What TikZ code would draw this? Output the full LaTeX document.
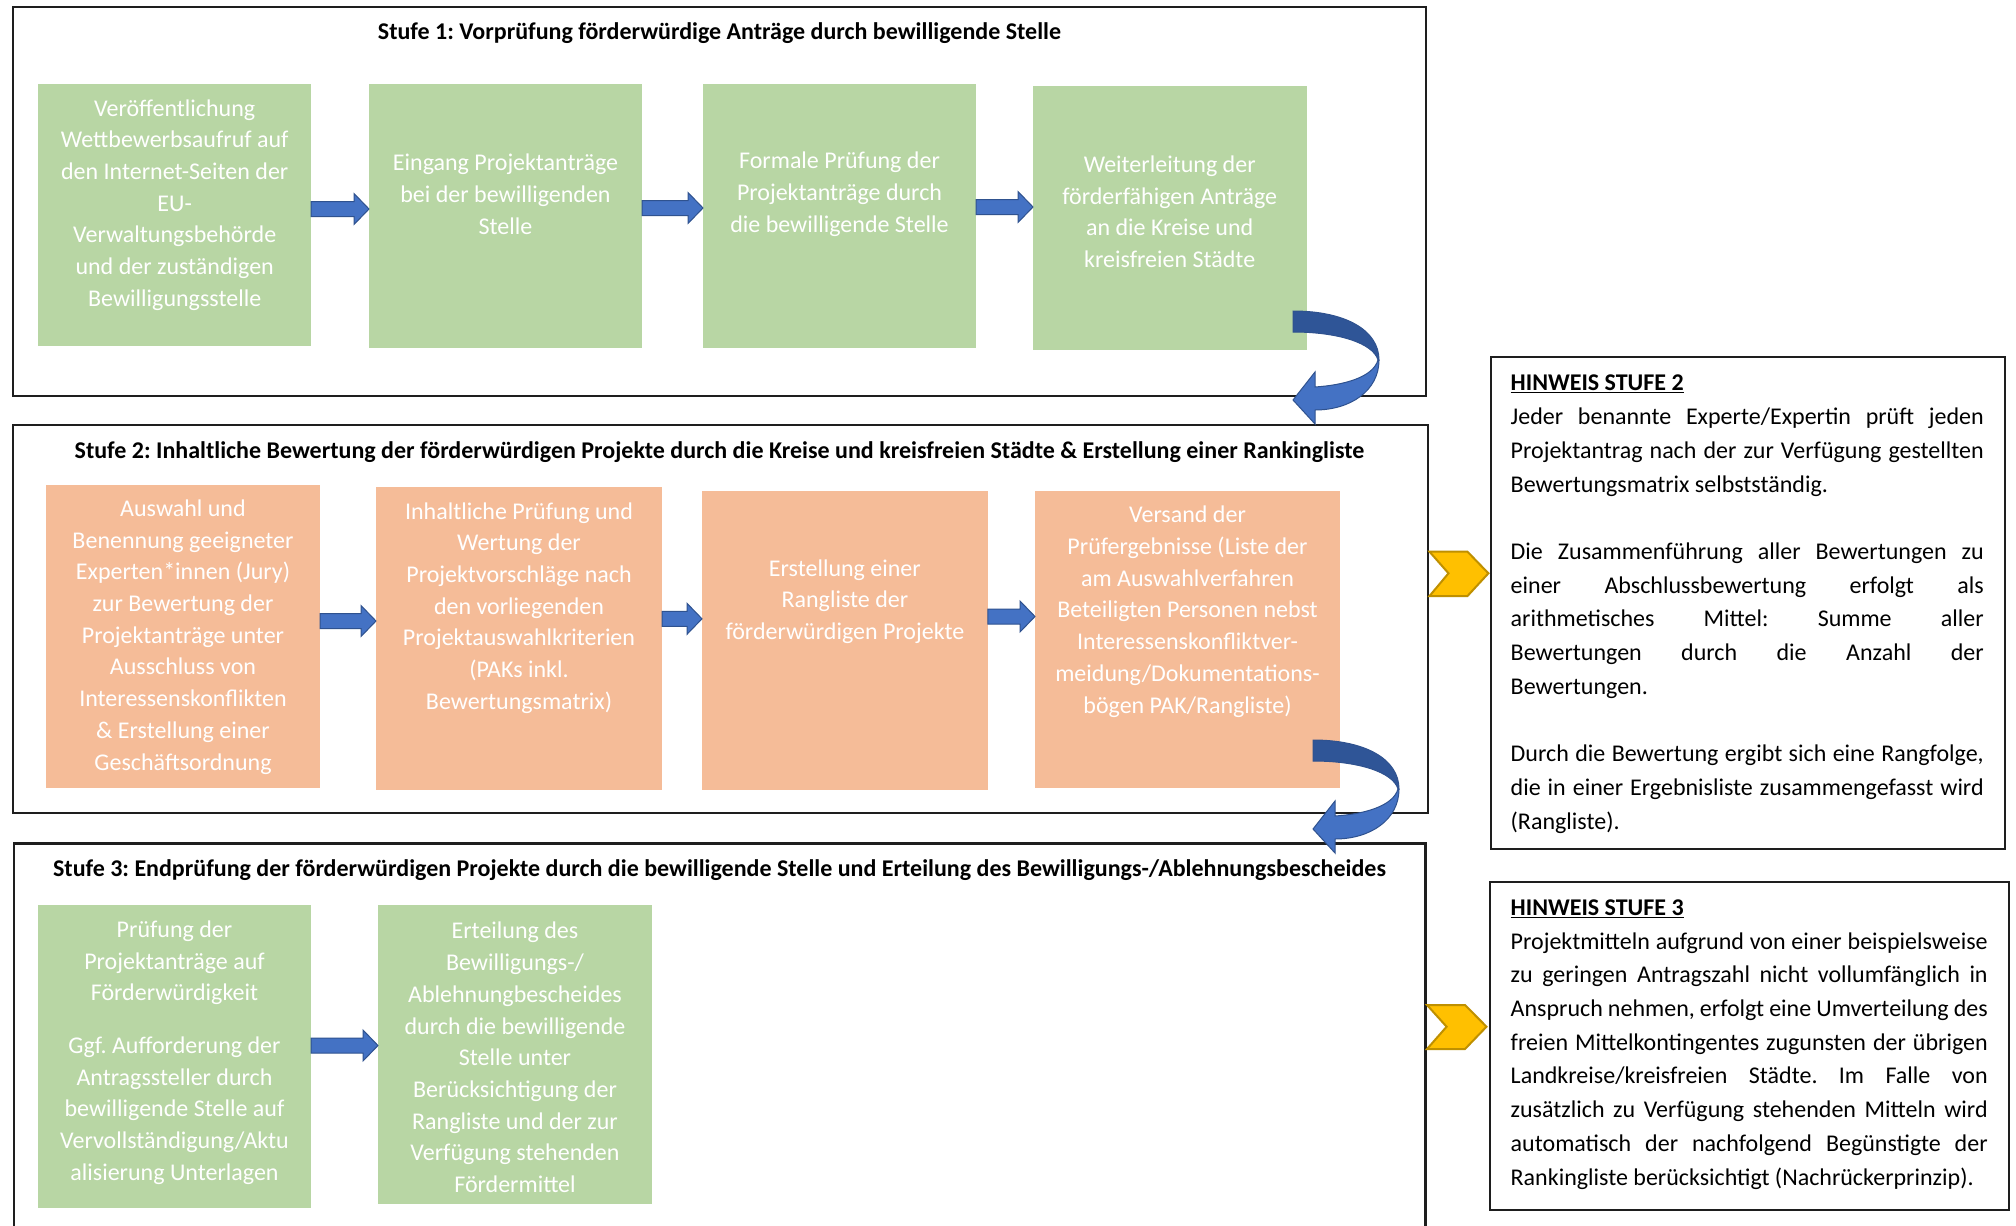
\documentclass[tikz,border=0pt]{standalone}
\usepackage{fontspec}
\setmainfont{Carlito}
\usetikzlibrary{calc}
\frenchspacing

\definecolor{boxgreen}{HTML}{B8D6A4}
\definecolor{boxorange}{HTML}{F5BC98}
\definecolor{arrowblue}{HTML}{4472C4}
\definecolor{arrowedge}{HTML}{2F528F}
\definecolor{arrowdark}{HTML}{2F5597}
\definecolor{chevfill}{HTML}{FFC000}
\definecolor{chevedge}{HTML}{BF9000}
\definecolor{framecol}{HTML}{1E1E1E}

% straight block arrow from #1 to the tip #2 (both at the same height)
\newcommand\blockarr[2]{%
  \draw[barrow] ($(#1)+(0pt,7.5pt)$) -- ($(#2)+(-15pt,7.5pt)$) -- ($(#2)+(-15pt,15.5pt)$)
    -- (#2) -- ($(#2)+(-15pt,-15.5pt)$) -- ($(#2)+(-15pt,-7.5pt)$) -- ($(#1)+(0pt,-7.5pt)$) -- cycle;}

% curved block arrow turning down and back to the left, starting at #1
\newcommand\curvedarr[1]{%
  \begin{scope}[shift={(#1)}]
    \filldraw[fill=arrowdark, draw=arrowedge, line width=1pt]
      (0,0) .. controls (52,0) and (86,19) .. (86,49) -- (85,49)
      .. controls (80,32) and (45,21) .. (0,21) -- cycle;
    \filldraw[fill=arrowblue, draw=arrowedge, line width=1pt, line join=miter]
      (86,49) .. controls (86,80) and (57,99) .. (22,99) -- (22,113) -- (0,89)
      -- (22,61) -- (22,76) .. controls (52,74) and (80,66) .. (85,49) -- cycle;
  \end{scope}}

\begin{document}
\begin{tikzpicture}[x=1pt,y=-1pt,
  stageframe/.style={draw=framecol, line width=2.5pt, inner sep=0pt, outer sep=0pt, anchor=north west},
  gbox/.style={fill=boxgreen, inner sep=0pt, outer sep=0pt, anchor=north west},
  obox/.style={fill=boxorange, inner sep=0pt, outer sep=0pt, anchor=north west},
  btext/.style={text=white, align=center, inner sep=0pt, font=\fontsize{24}{31.7}\selectfont},
  stagetitle/.style={inner sep=0pt, font=\fontsize{24}{29}\selectfont\bfseries},
  barrow/.style={fill=arrowblue, draw=arrowedge, line width=1pt, line join=miter},
  notebox/.style={draw=framecol, line width=2.5pt, inner sep=0pt, outer sep=0pt, anchor=north west},
  notetext/.style={align=left, inner sep=0pt, anchor=base west, font=\fontsize{24}{33.7}\selectfont},
  chev/.style={fill=chevfill, draw=chevedge, line width=2pt, line join=miter}
]
\useasboundingbox (0,0) rectangle (2016,1226);
\fill[white] (0,0) rectangle (2016,1226);
\clip (0,0) rectangle (2016,1226);

% ---------- stage frames ----------
\node[stageframe, minimum width=1413pt, minimum height=389pt] (st1) at (13,7) {};
\node[stageframe, minimum width=1415pt, minimum height=388pt] (st2) at (13,425) {};
\node[stageframe, minimum width=1411.5pt, minimum height=420pt] (st3) at (14,843.5) {};

\node[stagetitle] (t1) at (719.5,33.3) {Stufe 1: Vorprüfung förderwürdige Anträge durch bewilligende Stelle};
\node[stagetitle] (t2) at (719.5,452) {Stufe 2: Inhaltliche Bewertung der förderwürdigen Projekte durch die Kreise und kreisfreien Städte \& Erstellung einer Rankingliste};
\node[stagetitle] (t3) at (719.5,870) {Stufe 3: Endprüfung der förderwürdigen Projekte durch die bewilligende Stelle und Erteilung des Bewilligungs-/Ablehnungsbescheides};

% ---------- stage 1 ----------
\node[gbox, minimum width=273pt, minimum height=262pt] (s1a) at (38,84) {};
\node[gbox, minimum width=273pt, minimum height=264pt] (s1b) at (369,84) {};
\node[gbox, minimum width=273pt, minimum height=264pt] (s1c) at (703,84) {};
\node[gbox, minimum width=273.5pt, minimum height=264pt] (s1d) at (1033,86) {};

\node[btext] (s1a-t) at (174.7,205) {Veröffentlichung\\Wettbewerbsaufruf auf\\den Internet-Seiten der\\EU-\\Verwaltungsbehörde\\und der zuständigen\\Bewilligungsstelle};
\node[btext] (s1b-t) at (505.5,194.3) {Eingang Projektanträge\\bei der bewilligenden\\Stelle};
\node[btext] (s1c-t) at (839.5,194.3) {Formale Prüfung der\\Projektanträge durch\\die bewilligende Stelle};
\node[btext] (s1d-t) at (1169.7,211.7) {Weiterleitung der\\förderfähigen Anträge\\an die Kreise und\\kreisfreien Städte};

\coordinate (a1s) at (s1a.east |- 0,209);  \coordinate (a1e) at (s1b.west |- 0,209);
\coordinate (a2s) at (s1b.east |- 0,208);  \coordinate (a2e) at (s1c.west |- 0,208);
\coordinate (a3s) at (s1c.east |- 0,207);  \coordinate (a3e) at (s1d.west |- 0,207);
\blockarr{a1s}{a1e}
\blockarr{a2s}{a2e}
\blockarr{a3s}{a3e}

% ---------- stage 2 ----------
\node[obox, minimum width=274pt, minimum height=302.7pt] (s2a) at (46,485) {};
\node[obox, minimum width=286pt, minimum height=303pt] (s2b) at (376,487) {};
\node[obox, minimum width=285.8pt, minimum height=299pt] (s2c) at (702,491) {};
\node[obox, minimum width=305pt, minimum height=297pt] (s2d) at (1035,491) {};

\node[btext] (s2a-t) at (183,637) {Auswahl und\\Benennung geeigneter\\Experten*innen (Jury)\\zur Bewertung der\\Projektanträge unter\\Ausschluss von\\Interessenskonflikten\\\& Erstellung einer\\Geschäftsordnung};
\node[btext] (s2b-t) at (519,608) {Inhaltliche Prüfung und\\Wertung der\\Projektvorschläge nach\\den vorliegenden\\Projektauswahlkriterien\\(PAKs inkl.\\Bewertungsmatrix)};
\node[btext] (s2c-t) at (844.9,601.7) {Erstellung einer\\Rangliste der\\förderwürdigen Projekte};
\node[btext] (s2d-t) at (1187.5,611.7) {Versand der\\Prüfergebnisse (Liste der\\am Auswahlverfahren\\Beteiligten Personen nebst\\Interessenskonfliktver-\\meidung/Dokumentations-\\bögen PAK/Rangliste)};

\coordinate (b1s) at (s2a.east |- 0,621);    \coordinate (b1e) at (s2b.west |- 0,621);
\coordinate (b2s) at (s2b.east |- 0,618.8);  \coordinate (b2e) at (s2c.west |- 0,618.8);
\coordinate (b3s) at (s2c.east |- 0,616.5);  \coordinate (b3e) at (s2d.west |- 0,616.5);
\blockarr{b1s}{b1e}
\blockarr{b2s}{b2e}
\blockarr{b3s}{b3e}

% ---------- stage 3 ----------
\node[gbox, minimum width=273pt, minimum height=302.4pt] (s3a) at (38,905.3) {};
\node[gbox, minimum width=274pt, minimum height=298.4pt] (s3b) at (378,905.3) {};

\node[btext] (s3a-t) at (174.5,1052.5) {Prüfung der\\Projektanträge auf\\Förderwürdigkeit\\[21pt]Ggf. Aufforderung der\\Antragssteller durch\\bewilligende Stelle auf\\Vervollständigung/Aktu\\alisierung Unterlagen};
\node[btext] (s3b-t) at (515,1057.5) {Erteilung des\\Bewilligungs-/\\Ablehnungbescheides\\durch die bewilligende\\Stelle unter\\Berücksichtigung der\\Rangliste und der zur\\Verfügung stehenden\\Fördermittel};

\coordinate (c1s) at (s3a.east |- 0,1045.5);  \coordinate (c1e) at (s3b.west |- 0,1045.5);
\blockarr{c1s}{c1e}

% ---------- transitions between the stages ----------
\coordinate (k1) at (1293,311);
\coordinate (k2) at (1313,740);
\curvedarr{k1}
\curvedarr{k2}

% ---------- notes ----------
\node[notebox, minimum width=514pt, minimum height=492pt] (h2) at (1491,357) {};
\node[notebox, minimum width=519pt, minimum height=328pt] (h3) at (1490,882) {};

\draw[chev] (1429.5,551.7) -- (1467.5,551.7) -- (1488.4,573.3) -- (1467.5,596) -- (1429.5,596) -- (1448.5,573.3) -- cycle;
\draw[chev] (1427,1005) -- (1465,1005) -- (1486.5,1026.7) -- (1465,1049) -- (1427,1049) -- (1446.6,1026.7) -- cycle;

% the base anchor of these multi-line texts lies on their last line
\node[notetext] (h2-t) at (1510.5,829) {%
\underline{\textbf{HINWEIS STUFE 2}}\\
\makebox[473pt][s]{Jeder benannte Experte/Expertin prüft jeden}\\
\makebox[473pt][s]{Projektantrag nach der zur Verfügung gestellten}\\
Bewertungsmatrix selbstständig.\\[33.7pt]
\makebox[473pt][s]{Die Zusammenführung aller Bewertungen zu}\\
\makebox[473pt][s]{einer Abschlussbewertung erfolgt als}\\
\makebox[473pt][s]{arithmetisches Mittel: Summe aller}\\
\makebox[473pt][s]{Bewertungen durch die Anzahl der}\\
Bewertungen.\\[33.7pt]
\makebox[473pt][s]{Durch die Bewertung ergibt sich eine Rangfolge,}\\
\makebox[473pt][s]{die in einer Ergebnisliste zusammengefasst wird}\\
(Rangliste).};

\node[notetext] (h3-t) at (1510.5,1185) {%
\underline{\textbf{HINWEIS STUFE 3}}\\
\makebox[477pt][s]{Projektmitteln aufgrund von einer beispielsweise}\\
\makebox[477pt][s]{zu geringen Antragszahl nicht vollumfänglich in}\\
\makebox[477pt][s]{Anspruch nehmen, erfolgt eine Umverteilung des}\\
\makebox[477pt][s]{freien Mittelkontingentes zugunsten der übrigen}\\
\makebox[477pt][s]{Landkreise/kreisfreien Städte. Im Falle von}\\
\makebox[477pt][s]{zusätzlich zu Verfügung stehenden Mitteln wird}\\
\makebox[477pt][s]{automatisch der nachfolgend Begünstigte der}\\
Rankingliste berücksichtigt (Nachrückerprinzip).};

\end{tikzpicture}
\end{document}
